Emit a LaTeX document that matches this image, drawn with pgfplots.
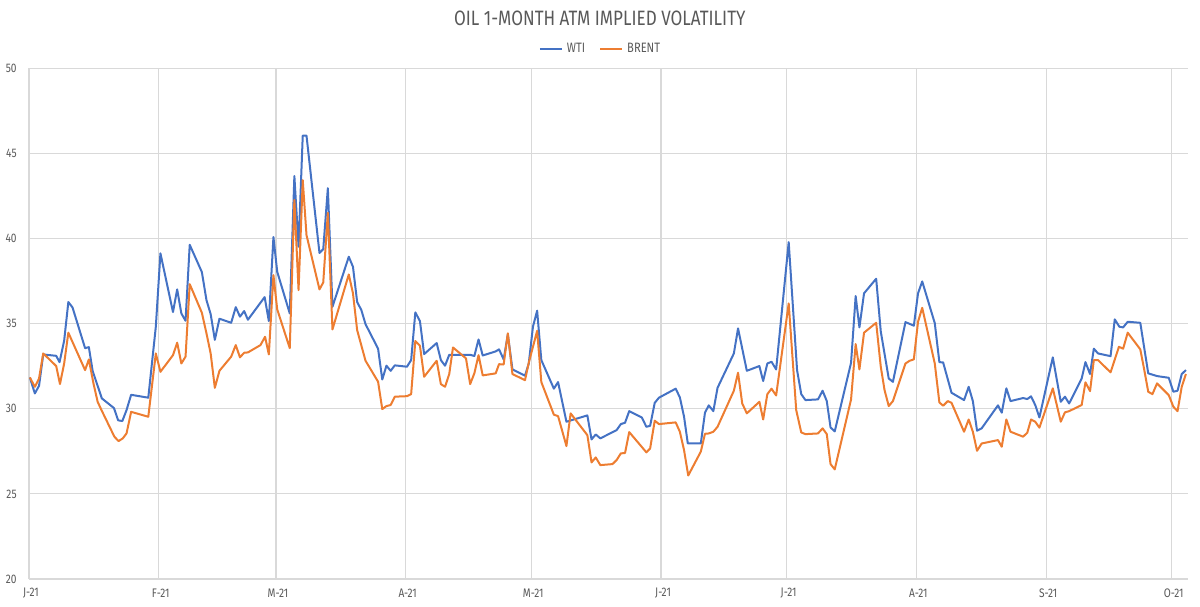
\documentclass[border=0pt]{standalone}
\usepackage{fontspec}
\setmainfont{Fira Sans}[FakeStretch=0.82]
\usepackage{pgfplots}
\pgfplotsset{compat=1.18}

\definecolor{wti}{HTML}{4472C4}
\definecolor{brent}{HTML}{ED7D31}
\definecolor{gridgrey}{HTML}{D9D9D9}
\definecolor{textgrey}{HTML}{595959}

\begin{document}
\begin{tikzpicture}
% fixed canvas around the plotting area
\path[use as bounding box] (-14.5pt,-13.5pt) rectangle (585.5pt,289.5pt);
\begin{axis}[
  scale only axis,
  width=579.5pt, height=255.35pt,
  xmin=0, xmax=276.9, ymin=20, ymax=50,
  xtick={0,31,59,90,120,151,181,212,243,273},
  xticklabels={J-21,F-21,M-21,A-21,M-21,J-21,J-21,A-21,S-21,O-21},
  ytick={20,25,30,35,40,45,50},
  grid=major,
  grid style={draw=gridgrey, line width=0.55pt},
  axis line style={draw=none},
  major tick length=0pt,
  /pgf/number format/assume math mode=true,
  tick label style={font=\fontsize{6.2}{7}\selectfont, text=textgrey},
  yticklabel style={inner sep=0pt, anchor=east, xshift=-6pt},
  xticklabel style={inner sep=0pt, anchor=center, yshift=-7.2pt, xshift=1pt},
  title={OIL 1-MONTH ATM IMPLIED VOLATILITY},
  every axis title shift=0pt,
  title style={at={(0.4925,1.0985)}, anchor=center, inner sep=0pt,
    font=\fontsize{10.4}{11}\selectfont, text=textgrey},
  legend columns=2,
  legend style={at={(0.494,1.038)}, anchor=center, draw=none, fill=none,
    font=\fontsize{6.8}{7}\selectfont, text=textgrey, inner sep=0pt,
    /tikz/every even column/.append style={column sep=5pt}},
  legend image code/.code={\draw[#1] (0pt,0pt) -- (11pt,0pt);},
  every axis plot/.append style={line width=1pt, line join=round},
]
% WTI
\addplot[wti] coordinates {
(0.2,31.84) (1.4,30.90) (2.4,31.35) (3.4,33.19) (6.5,33.11) (7.3,32.74)
(8.4,34.00) (9.4,36.27) (10.4,35.95) (13.4,33.56) (14.3,33.62) (15.2,32.23)
(17.4,30.61) (20.3,30.04) (21.3,29.32) (22.3,29.28) (23.3,29.92) (24.4,30.82)
(28.5,30.65) (30.3,34.82) (31.4,39.13) (34.4,35.68) (35.4,37.01) (36.4,35.60)
(37.4,35.17) (38.4,39.63) (41.3,38.03) (42.4,36.38) (43.4,35.56) (44.4,34.05)
(45.5,35.29) (48.3,35.05) (49.4,35.97) (50.4,35.41) (51.4,35.74) (52.3,35.23)
(56.3,36.56) (57.3,35.15) (58.4,40.09) (59.3,38.05) (62.3,35.60) (63.4,43.67)
(64.4,39.52) (65.4,46.04) (66.3,46.04) (69.4,39.15) (70.3,39.38) (71.4,42.96)
(72.5,35.99) (76.4,38.93) (77.4,38.34) (78.4,36.27) (79.4,35.80) (80.4,34.97)
(83.4,33.53) (84.4,31.72) (85.4,32.53) (86.4,32.23) (87.4,32.55) (90.3,32.47)
(91.3,32.86) (92.3,35.66) (93.4,35.15) (94.4,33.21) (97.4,33.86) (98.4,32.86)
(99.4,32.53) (100.4,33.17) (105.4,33.17) (106.4,33.10) (107.4,34.07) (108.4,33.13)
(111.5,33.37) (112.3,33.49) (113.4,32.90) (114.4,34.37) (115.5,32.31) (118.5,31.94)
(119.4,32.66) (120.4,34.82) (121.4,35.76) (122.4,32.86) (125.4,31.18) (126.4,31.57)
(128.4,29.24) (133.4,29.61) (134.4,28.20) (135.4,28.49) (136.5,28.26) (140.4,28.75)
(141.4,29.10) (142.4,29.18) (143.4,29.86) (146.4,29.49) (147.5,28.94) (148.4,29.00)
(149.5,30.35) (150.5,30.65) (154.5,31.18) (155.5,30.67) (156.5,29.53) (157.4,27.96)
(160.5,27.96) (161.5,29.77) (162.4,30.20) (163.5,29.86) (164.5,31.23) (168.4,33.25)
(169.4,34.72) (171.5,32.23) (174.5,32.51) (175.4,31.63) (176.4,32.66) (177.4,32.76)
(178.5,32.31) (181.5,39.79) (183.5,32.27) (184.5,30.86) (185.5,30.51) (188.5,30.55)
(189.6,31.06) (190.6,30.45) (191.5,28.90) (192.5,28.67) (196.4,32.70) (197.5,36.62)
(198.4,34.78) (199.5,36.78) (202.4,37.64) (203.5,34.54) (205.4,31.78) (206.4,31.58)
(209.4,35.09) (211.4,34.88) (212.4,36.78) (213.4,37.48) (216.4,35.03) (217.5,32.74)
(218.4,32.72) (220.4,30.94) (223.4,30.51) (224.5,31.29) (225.5,30.45) (226.5,28.71)
(227.6,28.85) (231.5,30.20) (232.4,29.77) (233.5,31.20) (234.5,30.45) (237.5,30.63)
(238.5,30.57) (239.4,30.73) (240.4,30.22) (241.4,29.49) (244.6,33.02) (246.5,30.41)
(247.5,30.71) (248.5,30.31) (251.5,31.78) (252.4,32.74) (253.5,32.04) (254.4,33.53)
(255.4,33.25) (258.4,33.09) (259.4,35.25) (260.5,34.82) (261.4,34.78) (262.5,35.11)
(265.5,35.05) (266.4,33.64) (267.4,32.08) (269.5,31.92) (272.3,31.82) (273.4,31.00)
(274.4,31.06) (275.4,32.04) (276.4,32.27)
};
\addlegendentry{WTI}
% Brent
\addplot[brent] coordinates {
(0.2,31.84) (1.4,31.29) (2.4,31.78) (3.4,33.25) (6.5,32.51) (7.4,31.45)
(8.4,32.66) (9.4,34.47) (13.4,32.27) (14.3,32.90) (15.4,31.49) (16.4,30.41)
(17.4,29.88) (20.4,28.36) (21.4,28.10) (22.4,28.26) (23.3,28.55) (24.4,29.82)
(28.5,29.53) (30.3,33.25) (31.4,32.17) (34.4,33.15) (35.4,33.88) (36.4,32.66)
(37.4,33.06) (38.4,37.32) (41.3,35.64) (42.4,34.43) (43.4,33.25) (44.4,31.23)
(45.5,32.23) (48.3,33.06) (49.4,33.74) (50.4,33.02) (51.4,33.29) (52.3,33.31)
(55.3,33.74) (56.4,34.23) (57.3,33.19) (58.4,37.85) (59.3,35.84) (62.3,33.56)
(63.4,42.26) (64.4,36.97) (65.4,43.43) (66.3,40.20) (69.4,37.01) (70.3,37.42)
(71.4,41.51) (72.5,34.66) (76.4,37.89) (77.4,36.78) (78.4,34.62) (80.4,32.82)
(83.4,31.59) (84.4,29.98) (85.4,30.16) (86.4,30.22) (87.4,30.71) (90.3,30.74)
(91.3,30.86) (92.3,33.98) (93.4,33.70) (94.4,31.88) (97.4,32.82) (98.4,31.45)
(99.4,31.29) (100.4,32.04) (101.3,33.60) (104.4,32.96) (105.4,31.45) (106.4,32.08)
(107.4,33.15) (108.4,31.96) (111.5,32.08) (112.3,32.62) (113.4,32.60) (114.4,34.43)
(115.5,32.04) (118.5,31.68) (119.4,32.70) (121.4,34.58) (122.4,31.57) (125.4,29.65)
(126.4,29.57) (128.4,27.81) (129.4,29.73) (133.4,28.45) (134.4,26.85) (135.4,27.14)
(136.5,26.69) (139.4,26.75) (140.4,26.99) (141.4,27.38) (142.4,27.40) (143.4,28.63)
(147.5,27.44) (148.4,27.67) (149.5,29.30) (150.5,29.10) (154.5,29.20) (155.5,28.65)
(156.5,27.57) (157.5,26.08) (160.5,27.48) (161.5,28.53) (162.4,28.55) (163.5,28.65)
(164.5,28.94) (168.4,31.06) (169.4,32.12) (170.4,30.31) (171.5,29.73) (174.5,30.41)
(175.4,29.37) (176.4,30.86) (177.4,31.18) (178.5,30.78) (181.5,36.19) (183.3,29.92)
(184.5,28.61) (185.5,28.51) (188.5,28.55) (189.6,28.85) (190.6,28.51) (191.5,26.75)
(192.5,26.44) (196.4,30.55) (197.5,33.80) (198.4,32.31) (199.5,34.47) (202.4,35.05)
(203.5,32.47) (204.4,31.10) (205.4,30.16) (206.4,30.45) (209.4,32.66) (210.4,32.82)
(211.4,32.90) (212.4,35.11) (213.4,35.93) (216.4,32.66) (217.5,30.37) (218.4,30.18)
(219.5,30.45) (220.4,30.35) (223.4,28.65) (224.5,29.37) (225.5,28.65) (226.5,27.53)
(227.6,27.96) (231.5,28.16) (232.4,27.77) (233.5,29.37) (234.5,28.65) (237.5,28.36)
(238.5,28.59) (239.4,29.37) (240.4,29.24) (241.4,28.89) (244.6,31.20) (246.5,29.24)
(247.5,29.79) (248.5,29.86) (251.5,30.22) (252.4,31.55) (253.5,31.04) (254.4,32.86)
(255.4,32.86) (258.4,32.14) (260.4,33.64) (261.4,33.53) (262.5,34.47) (265.5,33.49)
(266.4,32.35) (267.4,31.00) (268.4,30.86) (269.5,31.49) (272.3,30.80) (273.4,30.12)
(274.4,29.86) (275.4,31.29) (276.4,32.04)
};
\addlegendentry{BRENT}
\end{axis}
\end{tikzpicture}
\end{document}
